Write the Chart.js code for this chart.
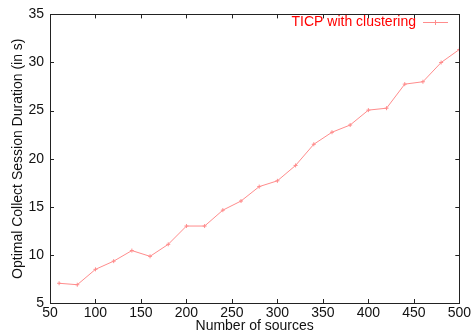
<!DOCTYPE html>
<html>
<head>
<meta charset="utf-8">
<script src="https://cdn.jsdelivr.net/npm/chart.js@4"></script>
<style>
  html, body { margin: 0; padding: 0; background: #fff; }
  #wrap { width: 473px; height: 335px; }
</style>
</head>
<body>
<div id="wrap"><canvas id="chart"></canvas></div>
<script>
const sources = [60, 80, 100, 120, 140, 160, 180, 200, 220, 240, 260, 280, 300, 320, 340, 360, 380, 400, 420, 440, 460, 480, 500];
const durations = [7.05, 6.9, 8.5, 9.35, 10.45, 9.85, 11.1, 13.0, 13.0, 14.65, 15.6, 17.1, 17.7, 19.3, 21.5, 22.75, 23.5, 25.05, 25.25, 27.75, 28.0, 30.0, 31.35];
const seriesLabel = 'TICP with clustering';
const xTicks = [50, 100, 150, 200, 250, 300, 350, 400, 450, 500];
const yTicks = [5, 10, 15, 20, 25, 30, 35];

const FONT = 'Liberation Sans, Arial, sans-serif';
const LINE = '#ff8c8c';

// gnuplot-style frame: border box, inward mirrored ticks, key inside top-right
const frame = {
    id: 'frame',
    afterDatasetsDraw(chart) {
        const { ctx, chartArea: a, scales } = chart;
        ctx.save();
        ctx.strokeStyle = '#222';
        ctx.lineWidth = 1;
        ctx.strokeRect(Math.round(a.left) + 0.5, Math.round(a.top) + 0.5,
            Math.round(a.right - a.left), Math.round(a.bottom - a.top));
        ctx.beginPath();
        xTicks.forEach(v => {
            const x = Math.round(scales.x.getPixelForValue(v)) + 0.5;
            ctx.moveTo(x, a.bottom); ctx.lineTo(x, a.bottom - 4);
            ctx.moveTo(x, a.top); ctx.lineTo(x, a.top + 4);
        });
        yTicks.forEach(v => {
            const y = Math.round(scales.y.getPixelForValue(v)) + 0.5;
            ctx.moveTo(a.left, y); ctx.lineTo(a.left + 4, y);
            ctx.moveTo(a.right, y); ctx.lineTo(a.right - 4, y);
        });
        ctx.stroke();

        // key
        ctx.font = '14px ' + FONT;
        ctx.fillStyle = '#ff0000';
        ctx.textAlign = 'right';
        ctx.textBaseline = 'middle';
        ctx.fillText(seriesLabel, 416, 22);
        ctx.strokeStyle = LINE;
        ctx.beginPath();
        ctx.moveTo(423, 22.5); ctx.lineTo(448, 22.5);
        ctx.moveTo(435.5, 20); ctx.lineTo(435.5, 25);
        ctx.stroke();
        ctx.restore();
    }
};

new Chart(document.getElementById('chart'), {
    type: 'line',
    data: {
        datasets: [{
            label: seriesLabel,
            data: sources.map((s, i) => ({ x: s, y: durations[i] })),
            borderColor: LINE,
            backgroundColor: LINE,
            borderWidth: 1,
            pointStyle: 'cross',
            pointRadius: 2,
            pointBorderWidth: 1,
            tension: 0
        }]
    },
    options: {
        responsive: true,
        maintainAspectRatio: false,
        animation: false,
        layout: { padding: { top: 14, right: 13, left: 0, bottom: 0 } },
        scales: {
            x: {
                type: 'linear',
                min: 50,
                max: 500,
                afterBuildTicks: s => { s.ticks = xTicks.map(v => ({ value: v })); },
                afterFit: s => { s.height = 32; },
                grid: { display: false, drawTicks: false },
                border: { display: false },
                ticks: { color: '#111', font: { family: FONT, size: 14 }, padding: 2, maxRotation: 0 },
                title: { display: true, text: 'Number of sources', color: '#111', font: { family: FONT, size: 14 }, padding: 0 }
            },
            y: {
                min: 5,
                max: 35,
                afterBuildTicks: s => { s.ticks = yTicks.map(v => ({ value: v })); },
                afterFit: s => { s.width = 50; },
                grid: { display: false, drawTicks: false },
                border: { display: false },
                ticks: { color: '#111', font: { family: FONT, size: 14 }, padding: 6 },
                title: { display: true, text: 'Optimal Collect Session Duration (in s)', color: '#111', font: { family: FONT, size: 14 }, padding: { top: 10, bottom: 0 } }
            }
        },
        plugins: {
            legend: { display: false },
            tooltip: { enabled: false }
        }
    },
    plugins: [frame]
});
</script>
</body>
</html>
